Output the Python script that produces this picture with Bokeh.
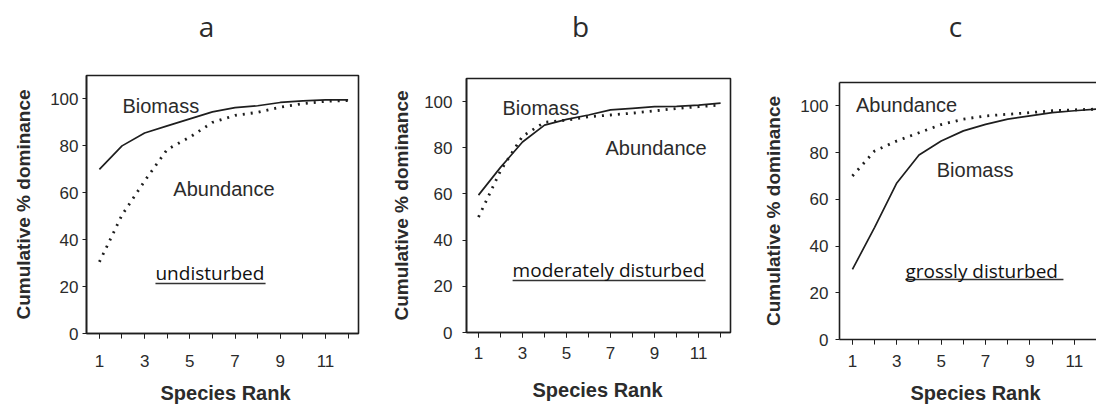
from bokeh.plotting import figure
from bokeh.layouts import row, column
from bokeh.models import FixedTicker, Label, Range1d, LinearAxis
from bokeh.core.properties import value
from bokeh.embed import file_html
from bokeh.resources import INLINE

# ---------------- data ----------------
rank = [1, 2, 3, 4, 5, 6, 7, 8, 9, 10, 11, 12]
x_ticks = [1, 3, 5, 7, 9, 11]
y_ticks = [0, 20, 40, 60, 80, 100]

biomass_a = [70, 80, 85.5, 88.5, 91.5, 94.5, 96.3, 97.1, 98.5, 99.2, 99.6, 99.6]
abundance_a = [30.5, 50.5, 65, 78.5, 83.7, 90, 93, 94.3, 96.5, 98, 99, 99.3]

biomass_b = [59.5, 71.5, 82.5, 89.8, 92.3, 94.2, 96.4, 97.1, 97.8, 97.9, 98.5, 99.3]
abundance_b = [50, 70, 85, 91, 92, 93.4, 94.2, 95, 96, 97, 97.8, 98.5]

biomass_c = [30, 48, 67, 79, 85, 89.3, 92.1, 94.3, 95.7, 97.1, 97.9, 98.6]
abundance_c = [70, 80.7, 85, 88.5, 92, 94.3, 95.7, 96.4, 97.1, 97.9, 98.3, 98.6]

panel_titles = ["a", "b", "c"]
subtitles = ["undisturbed", "moderately disturbed", "grossly disturbed"]
x_title = "Species Rank"
y_title = "Cumulative % dominance"

INK = "#1e1e1e"
TXT = "#2b2b2b"
W = 1096
TOP_H = 50
BOT_H = 26
MAIN_H = 404 - TOP_H - BOT_H


def strip(height, texts, xs, ys, font, size, style):
    s = figure(width=W, height=height, x_range=Range1d(0, W), y_range=Range1d(0, height),
               output_backend="svg", toolbar_location=None,
               x_axis_type=None, y_axis_type=None, min_border=0)
    s.outline_line_color = None
    s.grid.visible = False
    s.background_fill_color = "white"
    s.border_fill_color = "white"
    s.text(x=xs, y=ys, text=texts, text_align="center", text_baseline="middle",
           text_font=value(font), text_font_size=size, text_font_style=style,
           text_color=TXT)
    return s


def make_panel(sub, bio, ab, xr, bl, fw, br, bt, fh,
               ylab_so, ytick_so, xtick_so, bio_pos, ab_pos, sub_pos, ul, right_open=False):
    p = figure(width=bl + fw + br, height=MAIN_H, x_range=Range1d(*xr), y_range=Range1d(0, 110),
               output_backend="svg", toolbar_location=None,
               min_border_left=bl, min_border_right=br, min_border_top=bt,
               min_border_bottom=MAIN_H - bt - fh)
    p.background_fill_color = "white"
    p.border_fill_color = "white"
    p.grid.visible = False

    xax = p.below[0]
    yax = p.left[0]
    xax.ticker = FixedTicker(ticks=x_ticks, minor_ticks=rank)
    yax.ticker = FixedTicker(ticks=y_ticks, minor_ticks=[])
    for ax in (xax, yax):
        ax.axis_line_color = INK
        ax.axis_line_width = 1.6
        ax.major_tick_line_color = INK
        ax.minor_tick_line_color = INK
        ax.major_tick_in = 0
        ax.minor_tick_in = 0
        ax.major_tick_out = 5
        ax.minor_tick_out = 5
        ax.major_label_text_font = "Liberation Sans"
        ax.major_label_text_font_size = "17px"
        ax.major_label_text_color = TXT
    yax.major_tick_out = 4
    yax.axis_label = y_title
    yax.axis_label_text_font = "Liberation Sans"
    yax.axis_label_text_font_size = "19px"
    yax.axis_label_text_font_style = "bold"
    yax.axis_label_text_color = TXT
    yax.axis_label_standoff = ylab_so
    yax.major_label_standoff = ytick_so
    xax.major_label_standoff = xtick_so

    if right_open:
        # the frame runs off the right edge: draw the top edge only, no right edge
        p.outline_line_color = None
        top_ax = LinearAxis(ticker=FixedTicker(ticks=[], minor_ticks=[]),
                            axis_line_color=INK, axis_line_width=1.6,
                            major_tick_line_color=None, minor_tick_line_color=None,
                            major_tick_out=0, minor_tick_out=0, major_label_standoff=0)
        p.add_layout(top_ax, "above")
    else:
        p.outline_line_color = INK
        p.outline_line_width = 1.6

    p.line(rank, bio, line_color=INK, line_width=1.7)
    p.line(rank, ab, line_color=INK, line_width=2.8, line_dash="2 6")

    for txt, (x, y) in (("Biomass", bio_pos), ("Abundance", ab_pos)):
        p.add_layout(Label(x=x, y=y, text=txt, text_baseline="middle", text_align="left",
                           text_font="Liberation Sans", text_font_size="20px", text_color=TXT))
    p.add_layout(Label(x=sub_pos[0], y=sub_pos[1], text=sub, text_baseline="middle",
                       text_align="left", text_font="Open Sans", text_font_size="19px",
                       text_color="#111111"))
    p.segment(x0=[ul[0]], y0=[ul[2]], x1=[ul[1]], y1=[ul[2]], line_color="#333333", line_width=1.4)
    return p


pa = make_panel(subtitles[0], biomass_a, abundance_a,
                (0.43, 12.46), 86, 272, 12, 75 - TOP_H, 258,
                13, 4, 16,
                (2.02, 96.8), (4.27, 61.4), (3.48, 26.0), (3.48, 8.35, 21.3))
pb = make_panel(subtitles[1], biomass_b, abundance_b,
                (0.455, 12.45), 96, 264, 12, 78 - TOP_H, 254,
                9, 10, 9,
                (2.09, 97.4), (6.77, 80.1), (2.55, 26.9), (2.55, 11.32, 22.5))
pc = make_panel(subtitles[2], biomass_c, abundance_c,
                (0.417, 12.0), 97, 257, 0, 82 - TOP_H, 257,
                13, 7, 10,
                (4.80, 72.6), (1.16, 100.2), (3.39, 29.5), (3.39, 10.51, 25.7), right_open=True)

top = strip(TOP_H, panel_titles, [206, 580, 955], [TOP_H - 25] * 3, "Open Sans", "28px", "normal")
bottom = strip(BOT_H, [x_title] * 3, [225, 597, 975], [12, 15, 12],
               "Liberation Sans", "20px", "bold")

layout = column(top, row(column(pa), column(pb), column(pc)), bottom)
open("out.html", "w").write(file_html(layout, INLINE))
